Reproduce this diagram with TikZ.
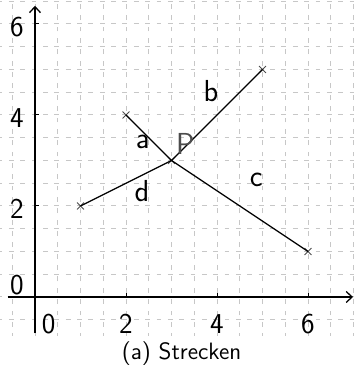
\documentclass[tikz,border=0pt]{standalone}
\usepackage{tikz}
\usetikzlibrary{arrows.meta,calc,positioning,shapes.misc}
\definecolor{rasterblass}{rgb}{0.78, 0.78, 0.78}
\definecolor{punktgrau}{rgb}{0.30, 0.30, 0.30}
\tikzset{
  raster/.style={
    draw=rasterblass,
    line width=.6pt,
    dash pattern=on 3pt off 4.1pt,
    dash phase=1.5pt
  },
  achse/.style={
    -{Straight Barb[length=1.3mm,width=2.4mm]},
    line width=.8pt,
    black
  },
  strecke/.style={
    line width=.8pt,
    black
  },
  punkt/.style={
    cross out,
    draw=punktgrau,
    line width=.6pt,
    minimum size=.13cm,
    inner sep=0pt
  },
  marke/.style={
    font=\sffamily\fontsize{19}{19}\selectfont
  },
  zahl/.style={
    font=\sffamily\fontsize{18}{18}\selectfont
  }
}
\begin{document}
\begin{tikzpicture}
\useasboundingbox (-0.769,-1.495) rectangle (7.011,6.527);
% Raster
\draw[raster] (-0.769,-0.85) grid[step=0.5] (7.011,6.527);
% Achsen
\coordinate (xa) at (-0.6,0);
\coordinate (xe) at (6.99,0);
\coordinate (ya) at (0,-0.8);
\coordinate (ye) at (0,6.4);
\draw[achse] (xa) -- (xe);
\draw[achse] (ya) -- (ye);
\foreach \k in {2,4,6} {
  \draw[line width=.6pt] (\k,0) -- (\k,0.08);
  \draw[line width=.6pt] (0,\k) -- (0.08,\k);
  \node[zahl] (x\k) at (\k,-0.6) {\k};
  \node[zahl] (y\k) at (-0.4,\k-0.07) {\k};
}
\node[zahl] (x0) at (0.3,-0.6) {0};
\node[zahl] (y0) at (-0.4,0.27) {0};
% Punkte
\node[punkt] (A) at (1,2) {};
\node[punkt] (B) at (2,4) {};
\node[punkt] (P) at (3,3) {};
\node[punkt] (C) at (5,5) {};
\node[punkt] (D) at (6,1) {};
% Strecken
\draw[strecke] (B.center) -- (P.center);
\draw[strecke] (P.center) -- (C.center);
\draw[strecke] (P.center) -- (D.center);
\draw[strecke] (A.center) -- (P.center);
% Beschriftungen
\node[marke, text=punktgrau] (lP) at (3.3,3.36) {P};
\node[marke] (la) at (2.37,3.4) {a};
\node[marke] (lb) at (3.87,4.52) {b};
\node[marke] (lc) at (4.86,2.57) {c};
\node[marke] (ld) at (2.35,2.33) {d};
\node[font=\sffamily\fontsize{14.8}{14.8}\selectfont] (titel) at (3.22,-1.25) {(a) Strecken};
\end{tikzpicture}
\end{document}
